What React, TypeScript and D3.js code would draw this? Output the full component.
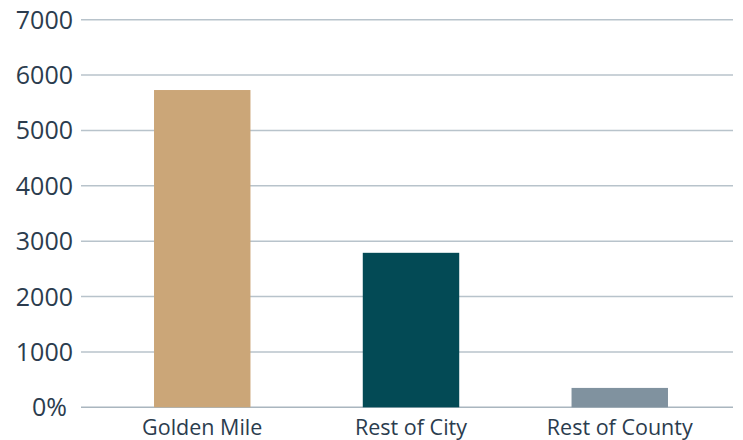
import React, { useEffect } from 'react';
import * as d3 from 'd3';

const categories = ['Golden Mile', 'Rest of City', 'Rest of County'];
const values = [5730, 2790, 350];
const barColors = ['#CBA678', '#034A55', '#80929F'];
const yTicks = [0, 1000, 2000, 3000, 4000, 5000, 6000, 7000];
const yTickLabels = ['0%', '1000', '2000', '3000', '4000', '5000', '6000', '7000'];

const W = 743;
const H = 440;
const FONT = '"Open Sans", "Noto Sans", sans-serif';

const App: React.FC = () => {
  useEffect(() => {
    document.body.style.margin = '0';
  }, []);

  const gridLeft = 81;
  const gridRight = 733;

  const y = d3.scaleLinear().domain([0, 7000]).range([407.3, 19.7]);
  const x = d3.scaleBand<string>()
    .domain(categories)
    .range([82, 740])
    .paddingInner(0.538)
    .paddingOuter(0.345);

  return (
    <svg width={W} height={H} style={{ display: 'block' }}>
      {/* gridlines */}
      {yTicks.map((t, i) => (
        <line
          key={t}
          x1={gridLeft}
          x2={gridRight}
          y1={y(t)}
          y2={y(t)}
          stroke={i === 0 ? '#aab6bf' : '#b8c3cb'}
          strokeWidth={1.4}
        />
      ))}
      {/* y labels */}
      {yTicks.map((t, i) => (
        <text
          key={'l' + t}
          x={i === 0 ? 67 : 73}
          y={y(t)}
          dy="0.36em"
          textAnchor="end"
          fontFamily={FONT}
          fontSize={25}
          fill="#2b3c4e"
        >
          {yTickLabels[i]}
        </text>
      ))}
      {/* bars */}
      {categories.map((c, i) => (
        <rect
          key={c}
          x={x(c)}
          y={y(values[i])}
          width={x.bandwidth()}
          height={y(0) - y(values[i])}
          fill={barColors[i]}
        />
      ))}
      {/* category labels */}
      {categories.map((c) => (
        <text
          key={'c' + c}
          x={(x(c) ?? 0) + x.bandwidth() / 2}
          y={434.5}
          textAnchor="middle"
          fontFamily={FONT}
          fontSize={21.5}
          fill="#2b3c4e"
        >
          {c}
        </text>
      ))}
    </svg>
  );
};

export default App;
